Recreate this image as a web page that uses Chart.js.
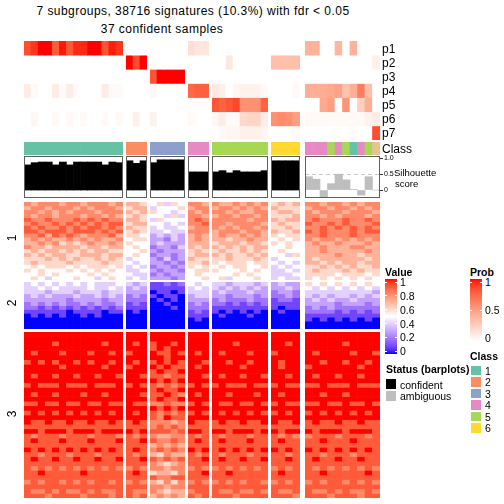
<!doctype html>
<html>
<head>
<meta charset="utf-8" />
<title>7 subgroups, 38716 signatures</title>
<style>
  body { margin:0; width:504px; height:504px; position:relative; overflow:hidden; background:#fff;
         font-family:"Liberation Sans", Arial, sans-serif; }
  canvas { position:absolute; }
  .t { position:absolute; white-space:nowrap; color:#000; line-height:1; }
  .box { position:absolute; border:1px solid #5f5f5f; box-sizing:border-box; }
  .sw { position:absolute; }
</style>
<script src="https://cdn.jsdelivr.net/npm/chart.js"></script>
</head>
<body>
<script>
// ---- data ----
const groupSizes = [14, 3, 5, 3, 8, 4, 10];   // 6 confident classes + ambiguous samples
const classOf = [1,1,1,1,1,1,1,1,1,1,1,1,1,1, 2,2,2, 3,3,3,3,3, 4,4,4, 5,5,5,5,5,5,5,5, 6,6,6,6,
                 4,4,4,5,4,5,1,4,5,7];
const silhouette = [0.79,0.86,0.88,0.88,0.79,0.88,0.79,0.88,0.88,0.88,0.88,0.79,0.88,0.86,
                    0.92,0.84,0.92, 0.86,0.95,0.95,0.95,0.95, 0.57,0.57,0.57,
                    0.57,0.61,0.54,0.61,0.57,0.57,0.57,0.61, 0.92,0.92,0.92,0.92,
                    0.42,0.34,-0.21,0.2,0.5,0.32,0.02,-0.16,0.42,0];
const confident = 37;
const p1 = [0.85,0.92,1,1,0.8,0.98,0.82,0.95,0.95,1,1,0.83,0.97,0.92, 0,0,0, 0,0,0,0,0, 0.17,0.13,0.13,
            0,0,0,0,0,0,0,0, 0,0,0,0, 0.4,0.4,0,0,0.38,0,0.4,0,0,0];
const p2 = [0,0,0,0,0,0,0,0,0,0,0,0,0,0, 1,0.85,1, 0,0,0,0,0, 0,0,0,
            0,0,0.12,0,0,0,0,0, 0.33,0.33,0.33,0.33, 0,0,0,0,0,0,0,0,0,0.08];
const p3 = [0,0,0,0,0,0,0,0,0,0,0,0,0,0, 0,0,0, 0.83,1,1,1,1, 0,0,0,
            0,0,0,0,0,0,0,0, 0,0,0,0, 0,0,0,0,0,0,0,0,0,0];
const p4 = [0.1,0.03,0,0,0.1,0.02,0.1,0.02,0,0,0,0.1,0.03,0.03, 0,0,0, 0.04,0,0,0,0, 0.75,0.78,0.78,
            0.12,0.08,0,0.05,0.07,0.07,0.07,0.03, 0,0,0,0.03, 0.42,0.42,0.42,0.45,0.48,0.32,0.42,0.65,0.33,0];
const p5 = [0,0,0,0,0,0,0,0,0,0,0,0,0,0, 0,0,0, 0,0,0,0,0, 0,0,0,
            0.82,0.77,0.82,0.87,0.57,0.57,0.57,0.77, 0,0,0,0, 0,0,0.45,0.5,0,0.55,0,0.25,0.42,0];
const p6 = [0,0.04,0,0,0.03,0,0.03,0,0.03,0,0,0.03,0,0.03, 0,0.08,0, 0.07,0,0,0,0, 0.03,0,0,
            0.04,0.1,0.03,0.03,0.2,0.22,0.22,0.1, 0.57,0.6,0.57,0.5, 0.03,0.03,0.03,0.03,0.03,0.03,0.03,0.03,0.07,0.1];
const p7 = [0,0,0,0,0,0,0,0,0,0,0,0,0,0, 0,0,0, 0,0,0,0,0, 0,0,0,
            0,0.03,0.05,0.05,0.07,0.07,0.07,0.05, 0,0,0,0.03, 0,0,0,0,0,0,0.02,0,0,0.85];
const probRows = [p1, p2, p3, p4, p5, p6, p7];

// heatmap values, one string per row band, one char per sample (0..9 = 0.0..0.9, A = 1.0)
const heatRows1 = [
  "87888788788878 776 56465 887 87787878 6767 8878878788",
  "78878887878887 677 45556 788 78878787 7666 7887887878",
  "88787878887888 767 65545 878 88787788 6776 8788878887",
  "87887888788787 676 55464 887 78878878 6667 8878788878",
  "98898889898988 776 46555 898 88888788 7677 8988898898",
  "89889898989899 677 55454 889 88788887 6766 9889898889",
  "98988989899898 766 45445 788 87878878 6676 8898989898",
  "99899989998989 676 44544 888 78887887 7667 9898889899",
  "88979898788897 665 34343 787 78778787 6566 8898889888",
  "78787787878778 566 33243 787 77677877 5656 8788787878",
  "77878676787787 655 34333 777 67776776 6565 7877877787",
  "87767777677677 565 23324 767 76767677 5565 7787778877",
  "67677676767766 556 32333 676 67667676 5655 7787777787",
  "76767766777677 565 23323 677 76766767 5546 7777877677",
  "66676767667676 455 32423 766 66766676 4555 7677777767",
  "67666676666766 545 33232 667 65666566 5454 7767677677",
  "56566656566656 454 23323 656 56566556 4545 6676767667",
  "65655565656565 445 32332 566 65556565 4454 6766676766",
  "55656555565655 544 23233 565 55565655 4445 6666566656",
  "56545556554565 454 33323 556 56455565 4544 6565656565"
];
const heatRows2 = [
  "45454545454445 434 11212 545 44344434 3433 6565656565",
  "44545444454454 343 11111 454 43434343 3343 5454545454",
  "44434443444344 333 01101 444 34333433 2332 4444444443",
  "34343334334343 232 10110 344 33233323 2232 4343443434",
  "33333323333233 222 01010 333 23222322 1221 3434334333",
  "23232322323223 121 00100 232 22121212 1111 3333233323",
  "22121212121212 111 00010 222 11111111 1011 2323222222",
  "11111101111011 010 00000 121 10101010 0100 2222121212",
  "01010100101000 000 00000 111 01000100 0000 1111111111",
  "00000000000000 000 00000 010 00000000 0000 1010101010",
  "00000000000000 000 00000 000 00000000 0000 0000000000",
  "00000000000000 000 00000 000 00000000 0000 0000000000"
];
const heatRows3 = [
  "AAAAAAAAAAAAAA AAA AAAAA AAA AAAAAAAA AAAA AAAAAAAAAA",
  "AAAAAAAAAAAAAA AAA AAAAA AAA AAAAAAAA AAAA AAAAAAAAAA",
  "AAAA9AAAAAA9AA A9A 9AA9A AAA AAA9AAAA AA9A AAAAA9AAAA",
  "AAAAAAAAAAAAAA AAA 9A9AA AAA AAAAAAAA AAAA AAAAAAAAAA",
  "A9AAA9AAA9AA9A 9AA A99A9 A9A A9AAA9AA 9AAA A9AAAA9AA9",
  "AAAAAAAAAAAAAA AAA AA9AA AAA AAAAAAAA AAAA AAAAAAAAAA",
  "9A9A9AA9A9AA9A A9A 9A9A9 AA9 AA9AA9AA A9AA AA9AA9AA9A",
  "AAAAA9AAAAA9AA 9AA A9A99 A9A AAAA9AAA A9AA 9AAAAAA9AA",
  "AAAAAAAAAAAAAA AAA 9A99A AAA AAAAAAAA AAAA AAAAAAAAAA",
  "A9AA9AA9AA9AA9 AA9 99899 AA9 A9AA9AA9 AA9A A9AA9AA9AA",
  "AAAAAAAAAAAAAA AAA A9A9A AAA AAAAAAAA AAAA AAAAAAAAAA",
  "9A999A999A999A 9A9 98989 9A9 9A999A99 9A99 99A999A999",
  "AAAAAAAAAAAAAA AAA 9A99A AAA AAAAAAAA AAAA AAAAAAAAAA",
  "A9AA9AAA9AA9AA AA9 99A98 A9A AA9AAA9A A9AA AA9AA9AAAA",
  "AAAAAAAAAAAAAA AAA 9A99A AAA AAAAAAAA AAAA AAAAAAAAAA",
  "99A99A99A99A99 A99 88988 9A9 A99A99A9 9A99 99A99A99A9",
  "AAAAAAAAAAAAAA AAA A9A9A AAA AAAAAAAA AAAA AAAAAAAAAA",
  "9A9A9A9A9A9A9A A9A 98989 9A9 A9A9A9A9 9A9A 9A9A9A9A9A",
  "AAAAAAAAAAAAAA AAA 98A99 AAA AAAAAAAA AAAA AAAAAAAAAA",
  "A99A99A99A99A9 9A9 88878 A99 9A99A99A A99A 9A99A99A99",
  "99999999999999 999 89898 999 99999999 9999 9999999999",
  "AA9AAA9AAA9AAA A9A 99989 AA9 AA9AAA9A A9AA A9AAA9AAA9",
  "98999899989998 989 87788 989 98999899 9898 8999899989",
  "9A999A999A999A 99A 98898 9A9 9A999A99 9A99 99A999A999",
  "99999999999999 999 78787 999 99999999 9999 9999999999",
  "A9A9A9A9A9A9A9 9A9 89898 A9A 9A9A9A9A A9A9 A9A9A9A9A9",
  "99899989998999 989 76877 989 98999899 9989 9989998999",
  "9A99A99A99A99A 99A 98989 99A 9A99A99A 99A9 9A99A99A99",
  "99999999999999 999 87678 999 99999999 9999 9999999999",
  "98989898989898 898 88788 898 89898989 8989 9898989898",
  "99A99999A99999 9A9 67768 99A 99A99999 9A99 99A99999A9",
  "99999999999999 999 98899 999 99999999 9999 9999999999",
  "89899898989989 898 76868 898 89898998 8989 8989989898",
  "99999999999999 999 88788 999 99999999 9999 9999999999",
  "98898988989889 988 87677 899 98898898 9889 9889898898",
  "99989999899989 989 78787 989 99989999 9998 9998999899"
];
const classColors = ['#66C2A5', '#FC8D62', '#8DA0CB', '#E78AC3', '#A6D854', '#FFD92F', '#E5C494'];
const classLegend = ['1', '2', '3', '4', '5', '6'];
const valueTicks = [1, 0.8, 0.6, 0.4, 0.2, 0];
const probTicks = [1, 0.5, 0];
const silTicks = [0, 0.5, 1];

// ---- layout ----
const groupX = [[24,123],[126,147],[150,185],[188,209],[212,268],[271,300],[305,380]];
const annotY = [41, 140], classY = [142, 155], silY = [156, 198];
const heatY = [[202, 280], [282, 329], [332, 498]];
const FONT = '"Liberation Sans", Arial, sans-serif';

// ---- colour ramps (LAB interpolation) ----
function toLin(c) { c /= 255; return c <= 0.04045 ? c / 12.92 : Math.pow((c + 0.055) / 1.055, 2.4); }
function fromLin(c) { c = c <= 0.0031308 ? 12.92 * c : 1.055 * Math.pow(c, 1 / 2.4) - 0.055; return Math.round(Math.min(1, Math.max(0, c)) * 255); }
const WX = 0.95047, WZ = 1.08883;
function rgbToLab(rgb) {
  const [r, g, b] = rgb.map(toLin);
  const x = (0.4124 * r + 0.3576 * g + 0.1805 * b) / WX;
  const y = 0.2126 * r + 0.7152 * g + 0.0722 * b;
  const z = (0.0193 * r + 0.1192 * g + 0.9505 * b) / WZ;
  const f = t => t > 0.008856 ? Math.cbrt(t) : 7.787 * t + 16 / 116;
  const fx = f(x), fy = f(y), fz = f(z);
  return [116 * fy - 16, 500 * (fx - fy), 200 * (fy - fz)];
}
function labToRgb([L, A, B]) {
  const fy = (L + 16) / 116, fx = fy + A / 500, fz = fy - B / 200;
  const fi = t => t > 0.206893 ? t * t * t : (t - 16 / 116) / 7.787;
  const x = fi(fx) * WX, y = fi(fy), z = fi(fz) * WZ;
  const r = 3.2406 * x - 1.5372 * y - 0.4986 * z;
  const g = -0.9689 * x + 1.8758 * y + 0.0415 * z;
  const b = 0.0557 * x - 0.2040 * y + 1.0570 * z;
  return 'rgb(' + [r, g, b].map(fromLin).join(',') + ')';
}
function ramp(breaks, cols) {
  const labs = cols.map(rgbToLab);
  return v => {
    v = Math.max(breaks[0], Math.min(breaks[breaks.length - 1], v));
    let i = 0;
    while (i < breaks.length - 2 && v > breaks[i + 1]) i++;
    const t = (v - breaks[i]) / (breaks[i + 1] - breaks[i]);
    return labToRgb(labs[i].map((c, k) => c + t * (labs[i + 1][k] - c)));
  };
}
const valueColor = ramp([0, 0.5, 1], [[0,0,255], [255,255,255], [255,0,0]]);
const probColor = ramp([0, 1], [[255,255,255], [255,0,0]]);

// ---- helpers ----
function place(x0, y0, x1, y1) {
  const c = document.createElement('canvas');
  c.width = x1 - x0; c.height = y1 - y0;
  c.style.left = x0 + 'px'; c.style.top = y0 + 'px';
  c.style.width = c.width + 'px'; c.style.height = c.height + 'px';
  document.body.appendChild(c);
  return c;
}
function baseOpts(scales, extra) {
  return Object.assign({
    responsive: false, animation: false, devicePixelRatio: 1, events: [],
    layout: { padding: 0 },
    plugins: { legend: { display: false }, tooltip: { enabled: false }, title: { display: false } },
    scales: scales
  }, extra || {});
}
// a block of cells: rows of colours, one stacked bar per sample column
function cellBlock(x0, y0, x1, y1, rows) {
  new Chart(place(x0, y0, x1, y1), {
    type: 'bar',
    data: {
      labels: rows[0].map((_, i) => i),
      datasets: rows.map(r => ({ data: r.map(() => 1), backgroundColor: r, borderWidth: 0,
                                 barPercentage: 1, categoryPercentage: 1 }))
    },
    options: baseOpts({
      x: { display: false, stacked: true },
      y: { display: false, stacked: true, min: 0, max: rows.length, reverse: true }
    })
  });
}
function box(x0, y0, x1, y1) {
  const d = document.createElement('div');
  d.className = 'box';
  Object.assign(d.style, { left: x0 + 'px', top: y0 + 'px', width: (x1 - x0) + 'px', height: (y1 - y0) + 'px' });
  document.body.appendChild(d);
}
function swatch(x0, y0, w, h, color) {
  const d = document.createElement('div');
  d.className = 'sw';
  Object.assign(d.style, { left: x0 + 'px', top: y0 + 'px', width: w + 'px', height: h + 'px', background: color });
  document.body.appendChild(d);
}
function txt(s, x, y, size, o) {
  o = o || {};
  const d = document.createElement('div');
  d.className = 't';
  d.textContent = s;
  d.style.left = x + 'px'; d.style.top = y + 'px'; d.style.fontSize = size + 'px';
  if (o.bold) d.style.fontWeight = 'bold';
  if (o.ls) d.style.letterSpacing = o.ls + 'px';
  let tr = 'translate(' + (o.center ? '-50%' : '0') + ',-50%)';
  if (o.rot) tr += ' rotate(-90deg)';
  d.style.transform = tr;
  document.body.appendChild(d);
}
function parseRow(str, g) {
  const seg = str.split(' ')[g];
  const out = [];
  for (let i = 0; i < groupSizes[g]; i++) {
    const ch = seg[Math.min(i, seg.length - 1)];
    out.push(valueColor(ch === 'A' ? 1 : Number(ch) / 10));
  }
  return out;
}

// ---- draw column groups ----
let start = 0;
groupSizes.forEach((n, g) => {
  const [x0, x1] = groupX[g];
  const idx = [];
  for (let i = start; i < start + n; i++) idx.push(i);

  cellBlock(x0, annotY[0], x1, annotY[1], probRows.map(p => idx.map(i => probColor(p[i]))));
  cellBlock(x0, classY[0], x1, classY[1], [idx.map(i => classColors[classOf[i] - 1])]);

  const amb = g === groupSizes.length - 1;
  const sv = idx.map(i => silhouette[i]);
  const sc = idx.map(i => i < confident ? '#000000' : '#BEBEBE');
  const yScale = {
    display: amb, position: 'right', min: -0.25, max: 1.07,
    afterBuildTicks: s => { s.ticks = silTicks.map(v => ({ value: v })); },
    ticks: { font: { size: 7, family: FONT }, color: '#000', padding: 1 },
    grid: { color: c => (c.tick && c.tick.value === 0.5) ? '#c8c8c8' : 'rgba(0,0,0,0)',
            tickColor: '#333', tickLength: 3, tickBorderDash: [] },
    border: { display: false, dash: [4, 3] }
  };
  if (amb) yScale.afterFit = s => { s.width = 18; };
  new Chart(place(x0, silY[0] - 6, amb ? x1 + 18 : x1, silY[1] + 6), {
    type: 'bar',
    data: { labels: sv.map((_, i) => i),
            datasets: [{ data: sv, backgroundColor: sc, borderWidth: 0, barPercentage: 1, categoryPercentage: 1 }] },
    options: baseOpts({ x: { display: false }, y: yScale },
                      { layout: { padding: { top: 6, bottom: 6, left: 0, right: 0 } } })
  });
  box(x0, silY[0], x1, silY[1]);

  [heatRows1, heatRows2, heatRows3].forEach((rows, k) => {
    cellBlock(x0, heatY[k][0], x1, heatY[k][1], rows.map(r => parseRow(r, g)));
  });
  start += n;
});

// ---- colour bars for legends ----
function colorBar(x0, y0, x1, y1, fn) {
  new Chart(place(x0, y0, x1, y1), {
    type: 'bar',
    data: { labels: [''], datasets: [{ data: [1], borderWidth: 0, barPercentage: 1, categoryPercentage: 1,
      backgroundColor: ctx => {
        const a = ctx.chart.chartArea;
        if (!a) return '#fff';
        const gr = ctx.chart.ctx.createLinearGradient(0, a.bottom, 0, a.top);
        for (let s = 0; s <= 20; s++) gr.addColorStop(s / 20, fn(s / 20));
        return gr;
      } }] },
    options: baseOpts({ x: { display: false }, y: { display: false, min: 0, max: 1 } })
  });
}
colorBar(385, 279, 397, 354, valueColor);
colorBar(470, 279, 482, 341, probColor);

// ---- text ----
txt('7 subgroups, 38716 signatures (10.3%) with fdr < 0.05', 193, 11, 12, { center: true, ls: 0.45 });
txt('37 confident samples', 162, 29, 12, { center: true, ls: 0.45 });
['p1', 'p2', 'p3', 'p4', 'p5', 'p6', 'p7'].forEach((s, i) => txt(s, 382, 48.5 + i * 14.14, 12));
txt('Class', 382, 149, 12);
txt('Silhouette', 394, 173, 9.5);
txt('score', 395, 184, 9.5);
txt('1', 11.5, 238, 12, { center: true, rot: true });
txt('2', 11.5, 303, 12, { center: true, rot: true });
txt('3', 11.5, 414, 12, { center: true, rot: true });

txt('Value', 385, 272, 10.5, { bold: true });
valueTicks.forEach((v, i) => {
  const y = 282 + i * 13.85;
  txt(String(v), 400, y, 10.5);
  swatch(385, y - 0.5, 2, 1, '#fff'); swatch(395, y - 0.5, 2, 1, '#fff');
});
txt('Prob', 470, 272, 10.5, { bold: true });
probTicks.forEach((v, i) => {
  const y = 282 + i * 28;
  txt(String(v), 485, y, 10.5);
  swatch(470, y - 0.5, 2, 1, '#fff'); swatch(480, y - 0.5, 2, 1, '#fff');
});
txt('Class', 470, 355.5, 10.5, { bold: true });
classLegend.forEach((s, i) => {
  const top = 365.5 + i * 11.5;
  swatch(471, top, 10, 9.5, classColors[i]);
  txt(s, 485, top + 5, 10.5);
});
txt('Status (barplots)', 386, 369, 10.5, { bold: true });
swatch(386, 379, 10, 10, '#000000');
txt('confident', 400, 384.5, 10.5);
swatch(386, 390.5, 10, 10, '#BEBEBE');
txt('ambiguous', 400, 395.5, 10.5);
</script>
</body>
</html>
